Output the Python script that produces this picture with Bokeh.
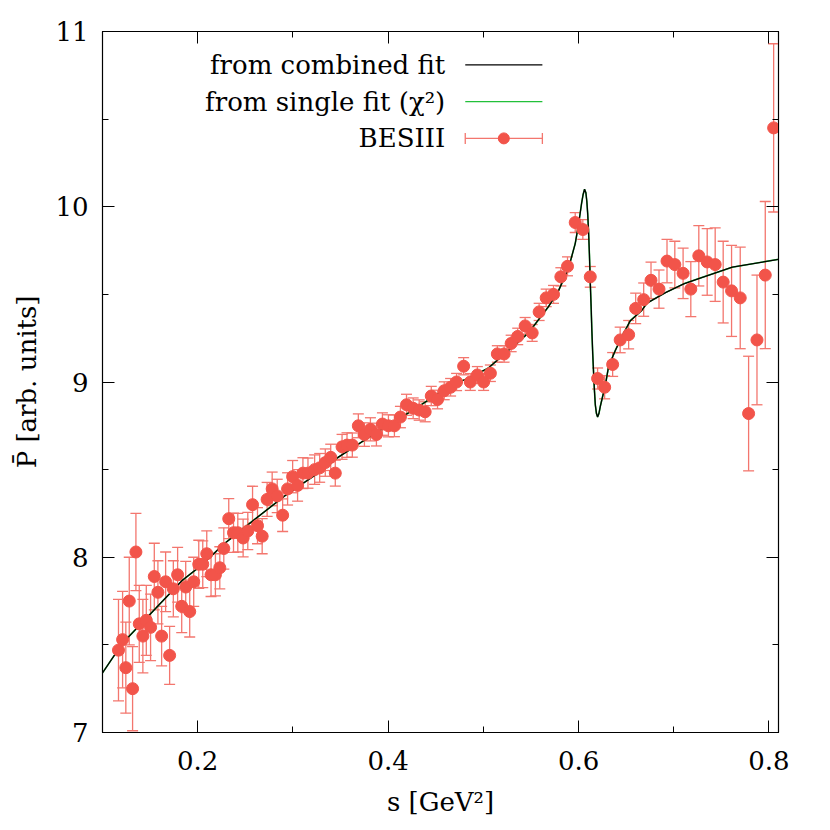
from bokeh.plotting import figure
from bokeh.models import (ColumnDataSource, Whisker, TeeHead, FixedTicker,
                          LinearAxis, Label, Range1d, CustomLabelingPolicy)
from bokeh.embed import file_html
from bokeh.resources import INLINE

# ---------------- data ----------------
s_data = [0.1168, 0.1211, 0.1245, 0.1281, 0.1316, 0.1351, 0.1386, 0.1424, 0.1460, 0.1505,
          0.1544, 0.1582, 0.1621, 0.1663, 0.1705, 0.1744, 0.1789, 0.1832, 0.1874, 0.1916,
          0.1958, 0.2011, 0.2053, 0.2095, 0.2140, 0.2186, 0.2232,
          0.2274, 0.2326, 0.2376, 0.2421, 0.2477, 0.2526, 0.2576, 0.2628, 0.2677, 0.2729,
          0.2782, 0.2835, 0.2892, 0.2944, 0.2997, 0.3049, 0.3105, 0.3158, 0.3228, 0.3281,
          0.3340, 0.3397, 0.3445,
          0.3516, 0.3568, 0.3624, 0.3687, 0.3751, 0.3814, 0.3877, 0.3940, 0.4003, 0.4066,
          0.4129, 0.4193, 0.4263, 0.4326, 0.4389, 0.4453, 0.4519, 0.4589, 0.4656,
          0.4719, 0.4793, 0.4863, 0.4937, 0.5003, 0.5074, 0.5147, 0.5218, 0.5292, 0.5361,
          0.5439, 0.5513, 0.5586, 0.5660, 0.5737, 0.5814, 0.5884,
          0.5965, 0.6045, 0.6123, 0.6200, 0.6274, 0.6358, 0.6437, 0.6526, 0.6600, 0.6684,
          0.6761, 0.6845, 0.6929, 0.7011, 0.7098, 0.7179, 0.7263, 0.7351, 0.7435, 0.7519,
          0.7607, 0.7698, 0.7786, 0.7874, 0.7961, 0.8049]

p_data = [7.47, 7.53, 7.37, 7.75, 7.25, 8.03, 7.62, 7.55, 7.64, 7.60,
          7.89, 7.80, 7.55, 7.86, 7.44, 7.82, 7.90, 7.72, 7.83, 7.69,
          7.86, 7.96, 7.96, 8.02, 7.90, 7.90, 7.94,
          8.05, 8.22, 8.14, 8.14, 8.11, 8.15, 8.30, 8.18, 8.12, 8.33,
          8.39, 8.35, 8.24, 8.39, 8.46, 8.41, 8.48, 8.48, 8.50, 8.51,
          8.54, 8.57, 8.48,
          8.63, 8.64, 8.64, 8.75, 8.70, 8.73, 8.70, 8.76, 8.75, 8.75,
          8.80, 8.87, 8.85, 8.84, 8.83, 8.92, 8.90, 8.95, 8.97,
          9.00, 9.09, 9.00, 9.04, 9.00, 9.05, 9.16, 9.16, 9.22, 9.26,
          9.32, 9.28, 9.40, 9.48, 9.50, 9.60, 9.66,
          9.91, 9.87, 9.60, 9.02, 8.97, 9.10, 9.24, 9.27, 9.42, 9.47,
          9.58, 9.53, 9.69, 9.67, 9.62, 9.53, 9.72, 9.685, 9.67, 9.57,
          9.52, 9.48, 8.82, 9.24, 9.61, 10.45]

p_err = [0.29, 0.275, 0.26, 0.25, 0.24, 0.22, 0.22, 0.21, 0.20, 0.19,
         0.19, 0.18, 0.17, 0.17, 0.165, 0.16, 0.156, 0.15, 0.146, 0.145,
         0.14, 0.137, 0.133, 0.131, 0.124, 0.12, 0.12,
         0.118, 0.114, 0.112, 0.11, 0.108, 0.106, 0.105, 0.103, 0.10, 0.097,
         0.096, 0.095, 0.093, 0.092, 0.092, 0.09, 0.088, 0.086, 0.084, 0.082,
         0.078, 0.075, 0.074,
         0.071, 0.070, 0.069, 0.068, 0.067, 0.066, 0.065, 0.064, 0.063, 0.062,
         0.061, 0.060, 0.059, 0.058, 0.057, 0.055, 0.053, 0.051, 0.050,
         0.049, 0.049, 0.048, 0.048, 0.048, 0.047, 0.047, 0.047, 0.047, 0.047,
         0.048, 0.048, 0.049, 0.050, 0.051, 0.052, 0.054,
         0.057, 0.056, 0.059, 0.060, 0.066, 0.068, 0.073, 0.081, 0.087, 0.095,
         0.104, 0.109, 0.124, 0.133, 0.144, 0.157, 0.172, 0.19, 0.21, 0.233,
         0.26, 0.29, 0.327, 0.37, 0.42, 0.48]

# fit curve values
s_fit = [0.100, 0.1211, 0.1421, 0.1632, 0.1842, 0.2053, 0.2263, 0.2561, 0.2913, 0.3263,
         0.3474, 0.3842, 0.4263, 0.4684, 0.4842, 0.5053, 0.5263, 0.5474, 0.5684, 0.5789,
         0.5895, 0.5965, 0.6000, 0.6032, 0.6048, 0.6063, 0.6077, 0.6087, 0.6096, 0.6105,
         0.6114, 0.6123, 0.6132, 0.6140, 0.6149, 0.6158, 0.6167, 0.6176, 0.6188, 0.6200,
         0.6214, 0.6228, 0.6254, 0.6281, 0.6316, 0.6386, 0.6456, 0.6544, 0.6666, 0.6719,
         0.6913, 0.7105, 0.7263, 0.7614, 0.8100]
p_fit = [7.34, 7.51, 7.63, 7.75, 7.87, 7.96, 8.07, 8.20, 8.35, 8.48,
         8.57, 8.70, 8.84, 8.99, 9.02, 9.08, 9.18, 9.28, 9.43, 9.52,
         9.65, 9.79, 9.90, 10.02, 10.07, 10.10, 10.08, 10.03, 9.96, 9.86,
         9.73, 9.57, 9.43, 9.29, 9.16, 9.05, 8.95, 8.87, 8.82, 8.80,
         8.82, 8.86, 8.92, 8.98, 9.09, 9.18, 9.26, 9.35, 9.41, 9.45,
         9.51, 9.56, 9.59, 9.655, 9.70]

x_major = [0.2, 0.4, 0.6, 0.8]
x_minor = [0.1, 0.2, 0.3, 0.4, 0.5, 0.6, 0.7, 0.8]
y_major = [7, 8, 9, 10, 11]
y_minor = [7, 7.5, 8, 8.5, 9, 9.5, 10, 10.5, 11]

legend_labels = ["from combined fit", "from single fit (\u03c7\u00b2)", "BESIII"]

# ---------------- styles ----------------
RED = "#f2544a"
RED_BAR = "#f3766e"
GREEN = "#22c03a"
FONT = "DejaVu Serif"
FS = "26px"

up = [v + e for v, e in zip(p_data, p_err)]
lo = [v - e for v, e in zip(p_data, p_err)]
src = ColumnDataSource(dict(s=s_data, p=p_data, up=up, lo=lo))
fit_src = ColumnDataSource(dict(s=s_fit, p=p_fit))

p = figure(frame_width=676, frame_height=701,
           min_border_left=102, min_border_right=38, min_border_top=31, min_border_bottom=92,
           x_range=Range1d(0.1, 0.81), y_range=Range1d(7, 11),
           output_backend="svg", toolbar_location=None)
p.background_fill_color = "white"
p.border_fill_color = "white"
p.outline_line_color = "black"
p.outline_line_width = 1.2
p.grid.visible = False

xt = FixedTicker(ticks=x_major, minor_ticks=x_minor)
yt = FixedTicker(ticks=y_major, minor_ticks=y_minor)

no_labels = CustomLabelingPolicy(code="for (const i of indices) { indices.unset(i) } return indices")


def style_axis(ax, labels=True):
    ax.major_tick_in = 12
    ax.major_tick_out = 0
    ax.minor_tick_in = 6
    ax.minor_tick_out = 0
    ax.major_tick_line_color = "black"
    ax.minor_tick_line_color = "black"
    ax.axis_line_color = "black"
    ax.major_label_text_font = FONT
    ax.axis_label_text_font = FONT
    ax.axis_label_text_font_style = "normal"
    ax.axis_label_text_color = "black"
    ax.major_label_text_color = "black"
    ax.major_label_text_font_size = FS
    ax.axis_label_text_font_size = FS
    if not labels:
        ax.major_label_policy = no_labels
        ax.major_label_standoff = 0


p.xaxis.ticker = xt
p.yaxis.ticker = yt
style_axis(p.xaxis[0])
style_axis(p.yaxis[0])
p.xaxis.axis_label = "s [GeV\u00b2]"
p.yaxis.axis_label = "P\u0304 [arb. units]"
p.xaxis.major_label_standoff = 18
p.xaxis.axis_label_standoff = 14
p.yaxis.major_label_standoff = 14
p.yaxis.axis_label_standoff = 10
p.yaxis.major_label_orientation = "horizontal"

top_ax = LinearAxis(ticker=xt)
right_ax = LinearAxis(ticker=yt)
style_axis(top_ax, labels=False)
style_axis(right_ax, labels=False)
p.add_layout(top_ax, "above")
p.add_layout(right_ax, "right")

# curves
p.line("s", "p", source=fit_src, line_color=GREEN, line_width=1.6)
p.line("s", "p", source=fit_src, line_color="black", line_width=1.3)

# data with error bars
p.add_layout(Whisker(base="s", upper="up", lower="lo", source=src,
                     line_color=RED_BAR, line_width=1.3,
                     upper_head=TeeHead(size=11, line_color=RED_BAR, line_width=1.3),
                     lower_head=TeeHead(size=11, line_color=RED_BAR, line_width=1.3)))
p.scatter("s", "p", source=src, size=12, fill_color=RED, line_color=RED)

# ---------------- legend (text left of sample, gnuplot style) ----------------
leg_x_text = 0.46
leg_x0, leg_x1 = 0.481, 0.562
leg_y = [10.81, 10.60, 10.39]
for lab, yy in zip(legend_labels, leg_y):
    p.add_layout(Label(x=leg_x_text, y=yy, text=lab, text_align="right",
                       text_baseline="middle", text_font=FONT, text_font_size=FS,
                       text_color="black"))
p.line([leg_x0, leg_x1], [leg_y[0], leg_y[0]], line_color="black", line_width=1.3)
p.line([leg_x0, leg_x1], [leg_y[1], leg_y[1]], line_color=GREEN, line_width=1.3)
leg_src = ColumnDataSource(dict(y=[leg_y[2]], a=[leg_x0], b=[leg_x1],
                                x=[(leg_x0 + leg_x1) / 2]))
p.add_layout(Whisker(base="y", upper="b", lower="a", dimension="width", source=leg_src,
                     line_color=RED_BAR, line_width=1.3,
                     upper_head=TeeHead(size=11, line_color=RED_BAR, line_width=1.3),
                     lower_head=TeeHead(size=11, line_color=RED_BAR, line_width=1.3)))
p.scatter("x", "y", source=leg_src, size=11, fill_color=RED, line_color=RED)

open("out.html", "w").write(file_html(p, INLINE))
